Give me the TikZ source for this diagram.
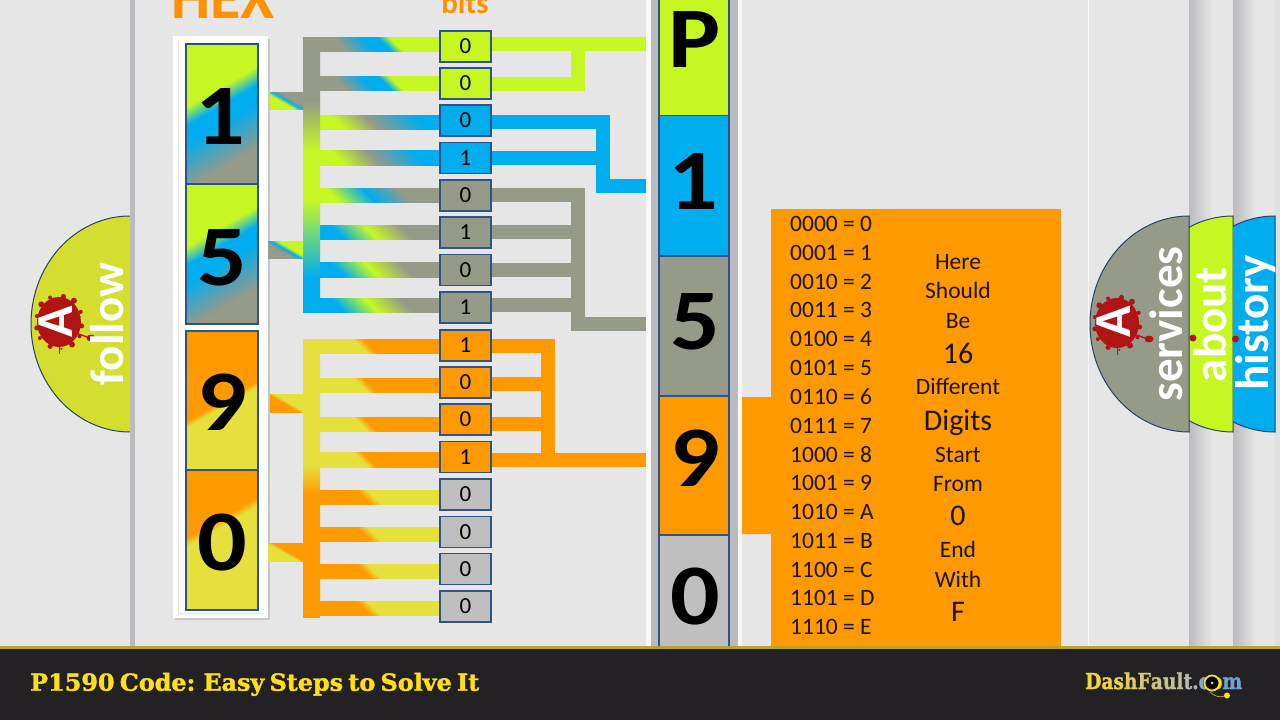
\documentclass[tikz,border=0pt]{standalone}
\usepackage{fontspec}
\usepackage{graphicx}
\setmainfont{Carlito}
\newfontfamily\slab[FakeBold=1.6]{DejaVu Serif Bold}
\usetikzlibrary{calc}
\definecolor{bgc}{HTML}{E6E6E6}
\definecolor{limec}{HTML}{C6F723}
\definecolor{bluec}{HTML}{00ADEF}
\definecolor{grayc}{HTML}{969A88}
\definecolor{orangec}{HTML}{FF9900}
\definecolor{yelc}{HTML}{E6E03C}
\definecolor{silverc}{HTML}{BFBFBF}
\definecolor{stripc}{HTML}{BBBBBF}
\definecolor{edgec}{HTML}{2F5288}
\definecolor{tabdull}{HTML}{D4DE2E}
\definecolor{splatc}{HTML}{B01414}
\definecolor{barc}{HTML}{232123}
\definecolor{goldc}{HTML}{B5A52A}
\definecolor{titlec}{HTML}{FFE014}
\definecolor{inkc}{HTML}{1E1408}
% connector shadings (axis runs along the picture after rotation)
\pgfdeclareverticalshading{gbl}{100bp}{color(0bp)=(grayc);color(41.9bp)=(grayc);color(49bp)=(bluec);color(53.5bp)=(bluec);color(56.4bp)=(limec);color(100bp)=(limec)}
\pgfdeclareverticalshading{lgb}{100bp}{color(0bp)=(limec);color(41.2bp)=(limec);color(50bp)=(grayc);color(62.4bp)=(bluec);color(100bp)=(bluec)}
\pgfdeclareverticalshading{lbg}{100bp}{color(0bp)=(limec);color(40bp)=(limec);color(49.3bp)=(bluec);color(59bp)=(grayc);color(100bp)=(grayc)}
\pgfdeclareverticalshading{blg}{100bp}{color(0bp)=(bluec);color(41.2bp)=(bluec);color(50bp)=(limec);color(59bp)=(grayc);color(100bp)=(grayc)}
\pgfdeclareverticalshading{yo}{100bp}{color(0bp)=(yelc);color(47.2bp)=(yelc);color(49.5bp)=(orangec);color(100bp)=(orangec)}
\pgfdeclareverticalshading{oy}{100bp}{color(0bp)=(orangec);color(48bp)=(orangec);color(50.7bp)=(yelc);color(100bp)=(yelc)}
\pgfdeclareverticalshading{slbg}{100bp}{color(0bp)=(limec);color(45bp)=(limec);color(50bp)=(bluec);color(55bp)=(grayc);color(100bp)=(grayc)}
\pgfdeclareverticalshading{sgbl}{100bp}{color(0bp)=(grayc);color(45bp)=(grayc);color(50bp)=(bluec);color(55bp)=(limec);color(100bp)=(limec)}
\pgfdeclareverticalshading{soy}{100bp}{color(0bp)=(orangec);color(48bp)=(orangec);color(52bp)=(yelc);color(100bp)=(yelc)}
\pgfdeclareverticalshading{syo}{100bp}{color(0bp)=(yelc);color(48bp)=(yelc);color(52bp)=(orangec);color(100bp)=(orangec)}
\pgfdeclareverticalshading{trunkA}{100bp}{color(0bp)=(bluec);color(31.4bp)=(bluec);color(45.4bp)=(limec);color(54.5bp)=(limec);color(63.5bp)=(grayc);color(100bp)=(grayc)}
\pgfdeclareverticalshading{trunkB}{100bp}{color(0bp)=(orangec);color(47bp)=(orangec);color(52.3bp)=(yelc);color(100bp)=(yelc)}
\pgfdeclareverticalshading{cellmix}{100bp}{color(0bp)=(limec);color(44bp)=(limec);color(48bp)=(bluec);color(52bp)=(bluec);color(62bp)=(grayc);color(100bp)=(grayc)}
\pgfdeclareverticalshading{cellnine}{100bp}{color(0bp)=(orangec);color(50bp)=(orangec);color(51.5bp)=(yelc);color(100bp)=(yelc)}
\pgfdeclareverticalshading{cellzero}{100bp}{color(0bp)=(orangec);color(45bp)=(orangec);color(47bp)=(yelc);color(100bp)=(yelc)}
\pgfdeclarehorizontalshading{stripfade}{100bp}{color(0bp)=(stripc);color(25bp)=(stripc);color(75bp)=(bgc);color(100bp)=(bgc)}
\newcommand\gradbar[6]{%
  \begin{scope}
    \clip (#1,#2) rectangle (#3,#4);
    \pgfmathsetmacro\cx{(#1+#3)/2}\pgfmathsetmacro\cy{(#2+#4)/2}\pgfmathsetmacro\hs{(#3-#1)/2}
    \shade[shading=#5,shading angle=#6] (\cx-\hs,\cy-\hs) rectangle (\cx+\hs,\cy+\hs);
  \end{scope}}
\newcommand\gradcell[5]{%
  \begin{scope}
    \clip (#1,#2) rectangle (#3,#4);
    \pgfmathsetmacro\cx{(#1+#3)/2}\pgfmathsetmacro\cy{(#2+#4)/2}
    \shade[shading=#5,shading angle=210] (\cx-100,\cy-100) rectangle (\cx+100,\cy+100);
  \end{scope}
  \draw[celledge] (#1,#2) rectangle (#3,#4);}
\newcommand\splat[2]{%
  \begin{scope}[shift={(#1,#2)}]
    \fill[splatc] (0,0) ellipse (22 and 25);
    \foreach \a/\r/\s in {10/23/2.5,35/25/2,60/26/3,85/27/1.2,110/26/2.5,140/25/2,165/23/2.5,195/23/2,225/25/3,250/26/2,280/26/2.5,305/26/3,335/24/2}
      \fill[splatc] (\a:\r) circle (\s);
    \draw[splatc,line width=1.4pt] (17,11) -- (28,15);
    \fill[splatc] (32,16) ellipse (4.5 and 3.4);
    \draw[splatc,line width=.7pt] (0,24) -- (0,32);
  \end{scope}}
\newcommand\bd[1]{\scalebox{1}[0.88]{#1}}
\tikzset{
  x=1pt,y=-1pt,
  celledge/.style={draw=edgec,line width=1.1pt},
  wire/.style={line width=14pt,line cap=butt,line join=miter},
  bitbox/.style={draw=edgec,line width=1.1pt,minimum width=51pt,minimum height=31pt,inner sep=0pt,text=black,font=\fontsize{23}{25}\selectfont},
  bigdigit/.style={inner sep=0pt,text=black,font=\bfseries\fontsize{98}{100}\selectfont},
  tablabel/.style={inner sep=0pt,text=white,rotate=90,anchor=base,font=\bfseries\fontsize{47}{50}\selectfont},
  letterA/.style={inner sep=0pt,text=white,rotate=90,font=\bfseries\fontsize{52}{54}\selectfont},
  tabedge/.style={draw=edgec!80!black,line width=1pt},
  codeline/.style={inner sep=0pt,anchor=west,text=inkc,font=\fontsize{23.5}{25}\selectfont},
  notesm/.style={inner sep=0pt,anchor=base,text=inkc,font=\fontsize{23.5}{25}\selectfont},
  notebig/.style={inner sep=0pt,anchor=base,text=inkc,font=\fontsize{30}{32}\selectfont},
  heading/.style={inner sep=0pt,anchor=base,text=orangec!95!red,font=\bfseries}
}
\begin{document}
\begin{tikzpicture}
\useasboundingbox (0,0) rectangle (1280,720);
\clip (0,0) rectangle (1280,720);
\fill[bgc] (0,0) rectangle (1280,720);
% page strips
\fill[stripc] (130,0) rectangle (135,646);
\fill[white!70!bgc] (1087.5,0) rectangle (1089,646);
\shade[shading=stripfade] (1189,0) rectangle (1212,646);
\shade[shading=stripfade] (1233,0) rectangle (1256,646);
\fill[black!12] (1275,0) rectangle (1280,646);
% tabs
\begin{scope}
  \clip (1189,200) rectangle (1280,450);
  \draw[tabedge,fill=limec] (1233,216) arc[start angle=270,delta angle=-180,x radius=99,y radius=108] -- cycle;
\end{scope}
\begin{scope}
  \clip (1233,200) rectangle (1280,450);
  \draw[tabedge,fill=bluec] (1275,216) arc[start angle=270,delta angle=-180,x radius=99,y radius=108] -- cycle;
\end{scope}
\draw[tabedge,fill=grayc] (1189,216) arc[start angle=270,delta angle=-180,x radius=99,y radius=108] -- cycle;
\fill[tabdull] (130,216) arc[start angle=270,delta angle=-180,x radius=99,y radius=108] -- cycle;
\draw[tabedge] (130,216) arc[start angle=270,delta angle=-180,x radius=99,y radius=108];
\splat{59}{322}
\splat{1117}{323}
\fill[splatc] (1193,338) circle (3.5);
\fill[splatc] (1235.5,339) circle (3.5);
\node[letterA] (afollow) at (56,322) {A};
\node[letterA] (aservices) at (1114,322) {A};
\node[tablabel] (tfollow) at (123,324) {follow};
\node[tablabel] (tservices) at (1182,324) {services};
\node[tablabel] (tabout) at (1226,324.5) {about};
\node[tablabel] (thistory) at (1268,323) {history};
% headings
\node[heading,font=\bfseries\fontsize{62}{64}\selectfont] (hex) at (223,19) {HEX};
\node[heading,font=\bfseries\fontsize{31}{33}\selectfont] (bits) at (465,13) {bits};
% hex frame
\fill[black!22] (175,39) rectangle (270,620);
\fill[white] (173,36) rectangle (268,618);
\draw[black!10,line width=.8pt] (178,41) -- (178,613) -- (263,613);
\gradcell{186}{44}{258}{184}{cellmix}
\gradcell{186}{184}{258}{324}{cellmix}
\gradcell{186}{331}{258}{470}{cellnine}
\gradcell{186}{470}{258}{610}{cellzero}
\node[bigdigit] (h1) at (220.5,116) {\bd{1}};
\node[bigdigit] (h5) at (222,258) {\bd{5}};
\node[bigdigit] (h9) at (222,402) {\bd{9}};
\node[bigdigit] (h0) at (222,543) {\bd{0}};
% left connectors
\foreach \a/\b/\s in {37/51.5/gbl,76/90.5/gbl,115/129.5/lgb,150/165/lgb,188/202.5/lbg,225/239.5/blg,262/277/blg,298/312.5/blg,339/353.5/yo,378/392/yo,417/431/yo,452.5/467/yo,490/504/oy,527/541/oy,564/578/oy,601/615.5/oy}
  {\gradbar{303}{\a}{440}{\b}{\s}{-45}}
\shade[shading=trunkA] (303,37) rectangle (320,312.5);
\shade[shading=trunkB] (303,339) rectangle (320,617);
\fill[grayc] (303,37) rectangle (320,51.5);
\gradbar{270}{92}{303}{109}{slbg}{-30}
\gradbar{268}{241}{303}{258}{sgbl}{-30}
\gradbar{270}{394}{303}{412}{soy}{-30}
\gradbar{268}{543}{303}{561}{syo}{-30}
% right connectors
\coordinate (w1) at (491,44);      \coordinate (w1e) at (648,44);
\coordinate (w2) at (491,83.5);    \coordinate (w2m) at (578,83.5);  \coordinate (w2t) at (578,44);
\coordinate (w3) at (491,122);     \coordinate (w3m) at (602.5,122); \coordinate (w3d) at (602.5,185.5); \coordinate (w3e) at (648,185.5);
\coordinate (w4) at (491,157.5);   \coordinate (w4e) at (602,157.5);
\coordinate (w5) at (491,194.5);   \coordinate (w5m) at (578,194.5); \coordinate (w5d) at (578,324);     \coordinate (w5e) at (648,324);
\coordinate (w6) at (491,232);     \coordinate (w6e) at (578,232);
\coordinate (w7) at (491,269.5);   \coordinate (w7e) at (578,269.5);
\coordinate (w8) at (491,305);     \coordinate (w8e) at (578,305);
\coordinate (w9) at (491,346);     \coordinate (w9m) at (547.5,346); \coordinate (w9d) at (547.5,460);   \coordinate (w9e) at (648,460);
\coordinate (w10) at (491,384);    \coordinate (w10e) at (547.5,384);
\coordinate (w11) at (491,423.5);  \coordinate (w11e) at (547.5,423.5);
\coordinate (w12) at (491,460);    \coordinate (w12e) at (547.5,460);
\draw[wire,limec] (w1) -- (w1e);
\draw[wire,limec] (w2) -- (w2m) -- (w2t);
\draw[wire,bluec] (w3) -- (w3m) -- (w3d) -- (w3e);
\draw[wire,bluec] (w4) -- (w4e);
\draw[wire,grayc] (w5) -- (w5m) -- (w5d) -- (w5e);
\draw[wire,grayc] (w6) -- (w6e);
\draw[wire,grayc] (w7) -- (w7e);
\draw[wire,grayc] (w8) -- (w8e);
\draw[wire,orangec] (w9) -- (w9m) -- (w9d) -- (w9e);
\draw[wire,orangec] (w10) -- (w10e);
\draw[wire,orangec] (w11) -- (w11e);
\draw[wire,orangec] (w12) -- (w12e);
% bit boxes
\foreach \n/\y/\c/\t in {1/46.5/limec/0,2/83.5/limec/0,3/120.5/bluec/0,4/158/bluec/1,5/195.5/grayc/0,6/232.5/grayc/1,7/270/grayc/0,8/307.5/grayc/1,9/345.5/orangec/1,10/382.5/orangec/0,11/419.5/orangec/0,12/457/orangec/1,13/494.5/silverc/0,14/532/silverc/0,15/569/silverc/0,16/606.5/silverc/0}
  \node[bitbox,fill=\c] (b\n) at (465.5,\y) {\t};
% centre column
\fill[white!75!bgc] (646,0) rectangle (651,646);
\fill[stripc] (651,0) rectangle (659,646);
\fill[stripc] (729,0) rectangle (737.5,646);
\fill[white!75!bgc] (737.5,0) rectangle (742,646);
\draw[celledge,fill=limec] (659,-5) rectangle (729,115.5);
\draw[celledge,fill=bluec] (659,115.5) rectangle (729,256);
\draw[celledge,fill=grayc] (659,256) rectangle (729,396);
\draw[celledge,fill=orangec] (659,396) rectangle (729,535);
\draw[celledge,fill=silverc] (659,535) rectangle (729,660);
\node[bigdigit] (cP) at (695,40) {\bd{P}};
\node[bigdigit] (c1) at (693.5,181) {\bd{1}};
\node[bigdigit] (c5) at (695,322) {\bd{5}};
\node[bigdigit] (c9) at (695,458) {\bd{9}};
\node[bigdigit] (c0) at (695,597) {\bd{0}};
% orange panel
\fill[orangec] (771,209) rectangle (1061,650) (742,397) rectangle (771,534);
\foreach \i/\t in {0/0000 = 0,1/0001 = 1,2/0010 = 2,3/0011 = 3,4/0100 = 4,5/0101 = 5,6/0110 = 6,7/0111 = 7,8/1000 = 8,9/1001 = 9,10/1010 = A,11/1011 = B,12/1100 = C,13/1101 = D,14/1110 = E}
  \node[codeline] (code\i) at (790,{224+28.8*\i}) {\t};
\node[notesm] (n1) at (958,269.5) {Here};
\node[notesm] (n2) at (958,298.5) {Should};
\node[notesm] (n3) at (958,328) {Be};
\node[notebig] (n4) at (958,363) {16};
\node[notesm] (n5) at (958,394.5) {Different};
\node[notebig] (n6) at (958,430.5) {Digits};
\node[notesm] (n7) at (958,462) {Start};
\node[notesm] (n8) at (958,491) {From};
\node[notebig] (n9) at (958,525.5) {0};
\node[notesm] (n10) at (958,557.5) {End};
\node[notesm] (n11) at (958,587) {With};
\node[notebig] (n12) at (958,621) {F};
% footer
\fill[barc] (0,646) rectangle (1280,720);
\fill[goldc] (0,646) rectangle (1280,648.5);
\node[inner sep=0pt,anchor=base west,text=titlec] (title) at (30,690.7)
  {\resizebox{449pt}{\height}{\slab\fontsize{23.5}{25}\selectfont\spaceskip=.22em P1590 Code: Easy Steps to Solve It}};
\node[inner sep=0pt,anchor=base west] (logo) at (1085,689)
  {\resizebox{157pt}{\height}{\slab\fontsize{22}{24}\selectfont
   \textcolor[HTML]{F5D33C}{D}\textcolor[HTML]{EFD245}{a}\textcolor[HTML]{E8D050}{s}\textcolor[HTML]{DDCB60}{h}\textcolor[HTML]{D5C870}{F}\textcolor[HTML]{CDC580}{a}\textcolor[HTML]{C5C290}{u}\textcolor[HTML]{BDBF9F}{l}\textcolor[HTML]{B5BCAF}{t}\textcolor[HTML]{9FB5BF}{.}\textcolor[HTML]{7FA8CF}{c}\textcolor[HTML]{E8D040}{o}\textcolor[HTML]{6FA0D8}{m}}};
\draw[yellow!85!orange,fill=black,line width=1.8pt] (1212,683) circle (7.5);
\fill[yellow!85!orange] (1212,683) circle (1.5);
\draw[goldc,line width=.8pt] (1210,692) .. controls (1214,696) and (1219,698) .. (1225,696);
\fill[yellow!85!orange] (1227,695.5) circle (3);
\end{tikzpicture}
\end{document}
